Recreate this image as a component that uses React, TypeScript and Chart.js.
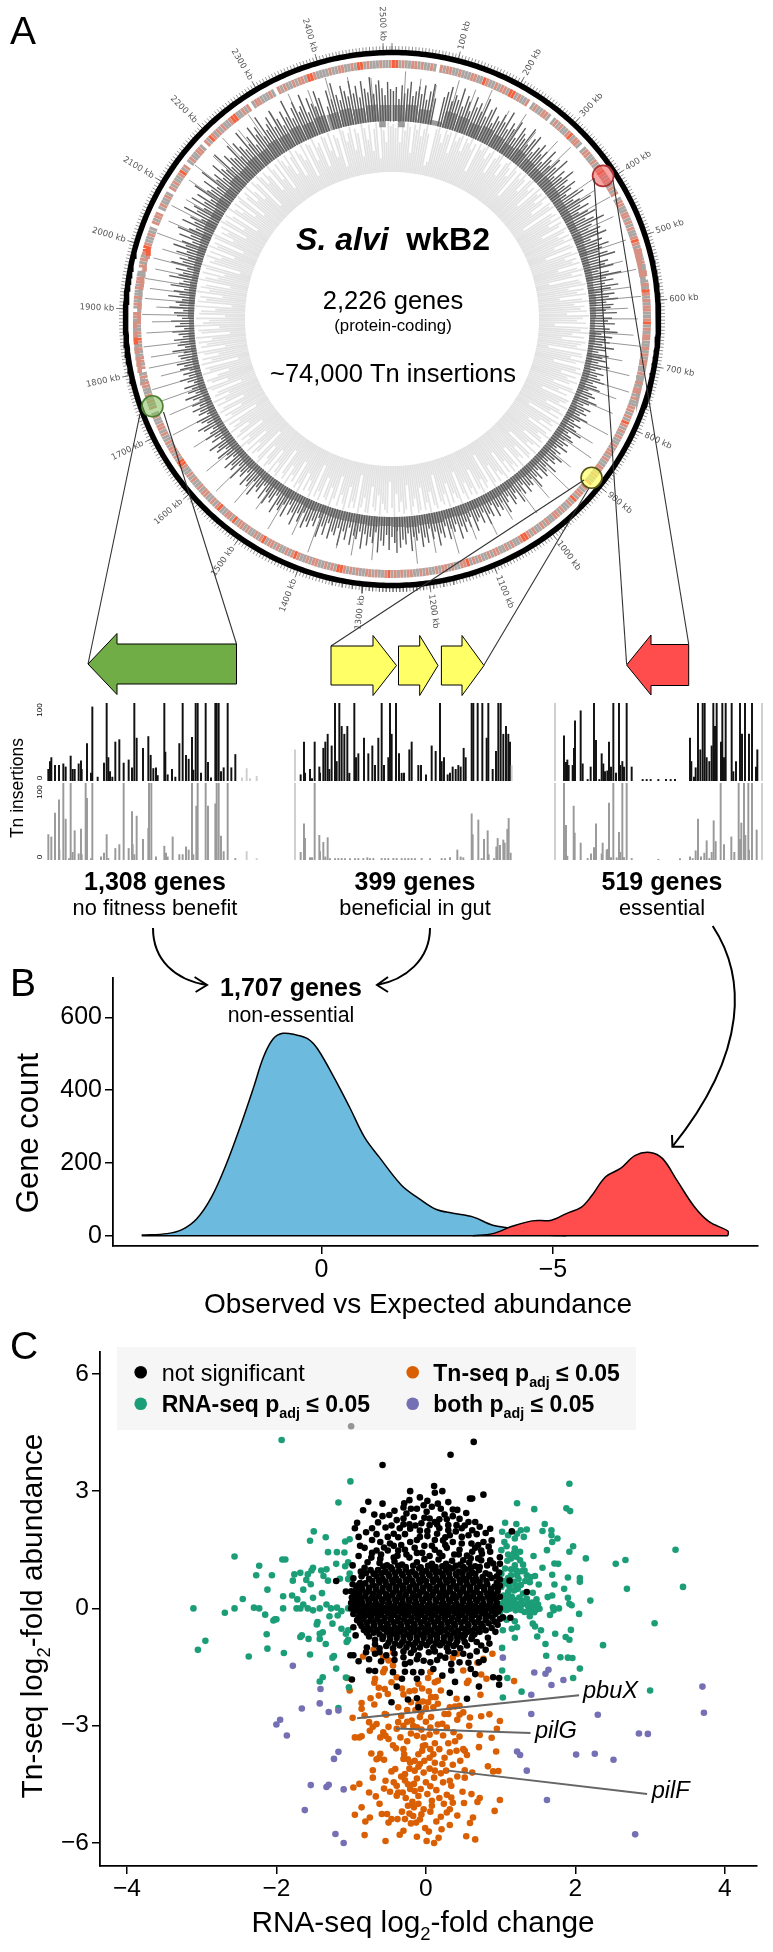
import React, { useEffect, useRef } from "react";
import { Chart, registerables } from "chart.js";
Chart.register(...registerables);

const FONT = '"Liberation Sans", Arial, sans-serif';

// ---------- Panel A: genome tracks ----------
const GENOME_KB = 2513;
const kbLabels = [100,200,300,400,500,600,700,800,900,1000,1100,1200,1300,1400,1500,1600,1700,1800,1900,2000,2100,2200,2300,2400,2500];
// gene ring, one class per bin: 0 gap, 1 grey, 2 salmon, 3 orange-red
const geneClass = [
3,3,1,2,1,1,2,2,1,2,1,1,2,1,0,2,1,2,2,1,1,2,1,1,1,2,2,1,1,3,2,1,1,2,1,2,2,1,3,3,
1,2,1,1,2,0,1,2,1,1,2,2,1,0,1,2,1,2,1,1,2,3,1,2,2,1,0,1,2,2,1,1,2,1,1,2,3,2,1,2,
1,1,2,1,2,0,1,2,2,1,1,2,2,1,2,1,2,1,1,2,3,2,1,2,2,1,1,2,1,1,2,2,0,1,2,1,3,2,1,2,
1,2,2,1,1,2,3,1,2,1,2,2,1,1,2,1,2,1,2,2,1,1,2,1,0,2,1,2,2,1,2,1,1,2,2,1,2,1,3,2,
1,2,1,2,1,1,2,1,2,2,1,2,1,1,2,2,1,2,1,1,2,0,2,1,2,2,1,3,1,2,1,1,2,1,2,2,1,1,2,1,
2,1,1,2,1,2,3,3,2,1,1,2,1,2,1,1,2,2,1,2,1,1,2,1,2,1,3,2,2,1,1,2,1,2,2,1,2,1,1,2,
1,2,1,1,2,2,1,2,1,2,1,3,2,1,1,2,1,2,2,1,1,2,1,2,1,2,3,3,1,2,1,2,1,1,2,2,1,2,1,1,
2,3,2,1,2,1,1,2,1,2,2,1,3,2,1,2,1,1,2,1,2,2,1,3,1,2,2,1,1,3,2,1,2,1,1,2,2,1,2,1,
1,2,1,2,1,1,2,3,3,1,2,1,2,2,1,2,1,1,2,1,2,2,1,1,2,1,0,2,1,2,1,2,1,1,2,2,1,2,1,0,
2,1,2,2,1,1,2,1,2,3,1,2,1,1,2,1,2,2,0,1,2,1,2,1,1,2,1,2,2,1,1,0,2,1,2,1,2,3,3,2,
1,1,2,1,1,0,2,1,2,2,0,1,2,1,1,2,1,0,2,1,2,1,1,2,3,1,2,0,1,2,1,1,2,2,1,0,2,1,3,2,
1,2,1,2,1,1,2,3,3,1,1,2,1,2,0,1,2,2,1,1,1,2,1,0,2,1,2,1,1,2,1,2,2,1,3,3,2,1,1,1,
1,2,1,1,2,2,1,1,2,1,3,3,1,2,1,1,1,2,1,1,2,
];
// dark track: height of the insertion bars above the track base, one per bin
const darkTrack = [
30,34,22,36,28,33,40,26,31,36,29,38,24,33,41,27,0,0,30,36,42,28,35,31,44,26,38,33,24,40,30,36,28,43,25,34,38,22,31,27,
36,29,42,24,33,28,38,21,35,30,26,40,23,32,37,20,28,34,24,30,19,36,27,22,33,25,38,18,29,23,35,26,20,31,24,16,28,33,19,25,
36,22,30,17,26,33,20,28,38,23,18,30,25,34,16,27,21,32,24,19,28,35,17,26,22,30,14,24,36,20,27,18,31,23,15,26,20,29,17,24,
21,16,27,13,22,18,25,15,20,28,12,23,17,21,14,26,18,11,22,16,20,13,25,17,12,21,15,19,24,13,18,22,11,16,20,14,24,17,12,21,
15,19,13,23,16,11,20,14,18,25,12,17,21,13,19,15,22,11,18,14,24,17,20,13,26,15,19,23,12,21,16,27,14,20,18,24,13,22,17,28,
15,21,25,14,19,29,16,23,18,27,13,24,20,30,16,26,19,22,31,15,25,18,28,21,33,17,24,20,30,16,27,22,34,19,26,15,29,23,32,18,
25,21,35,17,28,23,31,14,26,20,33,18,29,24,36,16,27,21,30,19,34,17,25,22,32,15,28,20,35,18,26,23,31,16,29,21,33,14,24,19,
27,22,30,15,26,18,32,20,24,14,29,17,25,21,31,13,23,19,28,16,26,12,22,18,30,15,24,20,27,13,21,17,29,14,23,19,26,12,20,16,
25,13,22,18,27,11,20,15,24,17,12,21,26,14,19,23,10,18,15,22,13,20,11,17,24,12,19,14,21,10,16,23,13,18,11,20,15,22,12,17,
19,13,24,11,18,15,21,12,16,22,10,19,14,23,12,17,20,11,25,15,19,13,27,16,22,12,26,18,14,29,20,16,24,13,30,19,23,15,28,18,
33,21,26,16,31,20,35,24,18,34,22,28,17,38,25,30,20,36,23,33,19,40,27,24,35,21,42,26,31,22,38,29,25,44,23,36,30,27,41,24,
39,32,26,45,28,35,23,42,31,38,25,46,29,34,40,27,44,33,24,38,30,47,26,36,41,29,34,45,25,39,32,28,43,35,0,24,40,30,46,33,
27,41,35,29,44,31,38,26,42,34,30,45,28,37,41,33,26,39,32,
];
// dark track: solid lower part, one value per 25 kb stretch
const darkEnvelope = [
16,17,14,5,17,16,14,16,14,12,14,12,11,12,11,9,9,8,9,8,
7,7,6,7,6,5,6,5,6,7,6,5,7,6,7,7,7,7,8,7,
8,9,9,9,10,9,11,10,11,10,9,10,9,9,9,8,9,8,9,8,
8,7,8,7,8,7,7,7,6,7,6,6,5,6,5,6,6,7,6,7,
8,9,11,10,12,11,14,13,15,14,16,15,17,15,17,16,17,15,17,16,
];
// long spikes reaching toward the gene ring: position (kb)
const spikeKb = [22,48,75,110,140,165,205,232,262,300,322,355,385,402,424,455,470,498,530,548,575,592,610,628,655,672,700,722,748,765,790,825,850,872,905,935,968,1000,1040,1075,1110,1145,1182,1215,1248,1290,1325,1352,1395,1430,1470,1505,1540,1575,1610,1655,1690,1722,1748,1770,1788,1805,1822,1840,1862,1880,1892,1905,1918,1935,1950,1968,1985,2003,2025,2050,2075,2095,2125,2150,2180,2212,2240,2268,2300,2340,2372,2405,2440,2478];
const spikeHeight = [50,44,40,50,46,52,41,47,38,45,50,36,48,42,52,46,34,49,40,51,43,52,38,48,44,52,36,46,50,40,42,47,38,45,34,48,40,44,36,42,38,46,40,48,36,44,42,38,50,40,46,36,44,48,42,38,50,44,46,52,40,50,46,52,48,42,52,38,50,46,52,44,48,42,52,46,50,40,48,52,44,50,46,52,42,50,46,52,48,44];
// pale track: height of the bars above the inner circle, one per bin
const paleTrack = [
48,44,51,30,47,42,50,46,20,49,44,51,38,46,50,42,10,14,48,51,44,36,50,46,49,28,51,42,47,50,34,49,45,51,40,47,18,50,44,48,
51,38,46,50,26,44,49,51,42,30,47,50,44,36,51,46,16,48,42,50,45,32,49,51,40,46,22,50,44,48,37,51,43,28,49,46,50,12,44,47,
40,51,35,48,44,24,50,46,38,49,42,51,30,46,48,18,44,50,36,47,42,49,26,45,51,38,48,14,44,46,50,32,47,40,49,22,44,51,36,46,
42,48,28,50,44,38,47,16,49,42,51,34,46,24,48,44,40,50,12,46,47,36,51,42,20,48,44,50,30,46,38,49,42,26,47,51,34,44,18,48,
46,40,50,28,44,49,36,47,14,50,42,46,32,48,22,45,51,38,44,47,26,49,42,36,50,16,46,48,30,44,40,51,24,47,42,49,34,46,20,50,
44,38,48,28,46,51,12,42,47,36,50,44,22,48,40,46,32,49,42,18,51,44,38,47,26,50,36,46,42,14,48,44,30,51,40,47,24,46,49,34,
42,50,20,44,48,36,46,28,51,42,16,47,44,38,50,30,46,42,22,49,48,34,44,51,12,46,40,47,26,50,44,36,48,18,42,51,32,46,44,24,
49,40,47,14,50,44,34,46,28,51,42,48,20,44,38,50,30,47,42,16,49,46,36,51,24,44,48,40,26,50,46,12,42,47,34,49,22,44,51,38,
46,18,48,42,30,50,44,36,47,14,51,40,46,26,49,44,20,48,38,50,32,46,42,16,47,51,28,44,48,36,24,50,42,46,12,49,38,47,30,44,
51,22,46,40,48,34,50,16,44,47,26,51,42,36,49,20,46,44,30,50,14,48,40,46,24,51,38,47,42,18,50,44,32,48,26,46,51,12,44,40,
49,34,47,22,50,42,46,16,48,51,30,44,38,47,20,50,46,26,49,42,14,51,44,36,48,24,46,50,18,42,47,32,51,40,28,49,44,12,50,46,
36,48,42,22,51,44,30,47,16,50,46,38,49,26,44,51,20,47,42,34,50,14,48,46,28,51,40,44,18,49,47,32,50,24,46,42,12,51,48,36,
44,50,26,47,42,18,51,46,34,49,22,44,50,14,47,42,30,51,46,
];
const highlightKb = [390, 1745, 897];
const highlightFill = ["rgba(240,90,90,0.55)", "rgba(130,190,90,0.55)", "rgba(255,255,90,0.65)"];
const highlightEdge = ["#b03030", "#4a7f30", "#55551a"];

// ---------- Panel A: insertion profiles below the gene arrows (position, insertions) ----------
const profile1Top = [[55,15],[60,25],[64,30],[75,20],[87,20],[100,22],[107,18],[122,32],[128,15],[134,15],[146,22],[153,26],[155,15],[171,48],[187,95],[183,10],[203,5],[222,23],[230,100],[235,30],[240,12],[247,5],[256,50],[268,53],[281,23],[296,27],[306,17],[313,100],[320,55],[339,42],[355,57],[362,33],[370,16],[378,17],[383,7],[403,100],[406,37],[413,8],[426,15],[436,5],[448,48],[458,100],[468,33],[476,28],[486,56],[490,14],[497,100],[503,100],[513,10],[527,100],[534,24],[543,4],[556,100],[560,100],[566,100],[573,12],[581,17],[593,100],[604,17],[616,34],[636,4],[650,16],[660,3],[680,6]];
const profile1Bottom = [[55,33],[64,30],[75,61],[87,78],[88,13],[100,100],[107,53],[117,2],[122,100],[128,10],[134,38],[146,8],[153,40],[155,7],[167,100],[171,80],[183,2],[187,100],[213,4],[222,9],[230,33],[235,2],[256,15],[268,20],[281,100],[296,15],[306,63],[308,20],[313,7],[320,57],[339,27],[355,41],[357,100],[364,100],[378,4],[403,18],[408,9],[413,4],[428,30],[448,7],[458,7],[468,17],[476,13],[486,100],[490,7],[499,70],[503,100],[527,100],[534,70],[556,73],[560,100],[566,100],[573,31],[581,11],[593,100],[616,2],[650,11],[680,2]];
const profile2Top = [[15,40],[32,8],[42,50],[45,10],[60,15],[66,3],[74,50],[88,18],[90,10],[100,42],[106,50],[113,60],[118,15],[125,45],[135,100],[140,25],[148,100],[155,70],[163,60],[172,70],[178,10],[193,100],[198,30],[205,35],[222,55],[235,35],[247,45],[255,20],[265,55],[275,100],[282,20],[295,30],[300,100],[305,60],[318,100],[327,35],[335,10],[342,10],[358,40],[365,50],[385,20],[393,20],[408,8],[425,45],[437,38],[450,100],[455,25],[462,30],[473,8],[480,10],[488,18],[497,15],[505,20],[512,18],[521,42],[527,30],[545,100],[550,100],[563,100],[577,100],[590,55],[595,100],[608,15],[618,38],[625,100],[632,100],[640,60],[648,70],[655,60],[660,50],[665,20]];
const profile2Bottom = [[15,100],[32,10],[42,47],[45,28],[60,3],[66,3],[74,100],[88,32],[90,11],[100,23],[106,4],[113,29],[120,2],[135,2],[145,2],[155,2],[165,2],[180,2],[195,2],[205,2],[220,2],[232,3],[240,2],[250,2],[275,2],[285,2],[295,2],[310,2],[320,2],[335,2],[345,2],[355,2],[365,2],[375,2],[395,2],[420,2],[455,2],[465,2],[480,3],[502,13],[512,4],[520,3],[545,60],[548,33],[565,52],[575,2],[582,27],[593,38],[596,7],[612,2],[619,17],[623,28],[630,19],[640,26],[644,22],[652,40],[656,54],[662,9]];
const profile3Top = [[15,100],[42,58],[48,24],[52,27],[56,20],[68,20],[72,42],[75,77],[92,90],[98,22],[113,2],[122,18],[132,100],[138,52],[148,2],[155,35],[160,22],[165,12],[172,13],[177,50],[183,18],[190,100],[198,10],[207,100],[211,20],[217,25],[222,18],[230,100],[245,18],[278,2],[290,2],[302,2],[325,2],[348,2],[362,2],[375,2],[420,55],[424,25],[432,5],[437,17],[444,100],[451,40],[458,100],[464,100],[470,30],[478,25],[485,45],[490,100],[495,70],[500,100],[513,50],[517,100],[522,30],[527,100],[545,100],[550,12],[558,25],[570,100],[576,60],[585,100],[597,60],[606,100],[618,18],[622,40],[636,100]];
const profile3Bottom = [[15,100],[42,100],[48,45],[52,5],[71,70],[74,35],[92,22],[113,2],[123,8],[132,16],[138,47],[155,8],[158,22],[170,13],[173,14],[177,74],[183,3],[190,100],[200,3],[207,36],[211,10],[217,100],[222,3],[230,100],[245,2],[325,1],[390,2],[420,4],[428,2],[437,12],[444,53],[453,4],[463,9],[470,25],[478,2],[485,10],[491,51],[497,24],[512,100],[522,20],[544,30],[553,10],[566,100],[570,27],[574,48],[582,100],[586,32],[595,100],[597,13],[606,100],[620,39],[636,100]];

// ---------- Panel B: density ----------
const nonEssentialX = [3.88,3.33,3.01,2.69,2.37,2.05,1.73,1.46,1.25,1.04,.83,.56,.29,.08,-.29,-.61,-.93,-1.25,-1.73,-2.10,-2.47,-2.84,-3.27,-3.70,-4.12,-4.49,-4.87,-5.29];
const nonEssentialY = [2,6,17,47,107,198,308,409,491,541,556,552,541,513,431,353,271,216,139,103,73,62,52,29,20,8,2,0];
const essentialX = [-3.27,-3.70,-4.12,-4.55,-4.97,-5.29,-5.61,-5.82,-6.14,-6.46,-6.78,-7.10,-7.37,-7.68,-8.06,-8.38,-8.78,-8.78];
const essentialY = [0,6,26,41,43,61,78,107,162,185,221,229,212,152,79,38,13,0];
const densityTicksX = [0,-5];
const densityTicksY = [0,200,400,600];

// ---------- Panel C: scatter (RNA-seq log2FC, Tn-seq log2FC) ----------
const notSignificant = [[-1.0,4.66],[.64,4.26],[.33,3.93],[-.58,3.67],[-.77,2.73],[-.58,2.68],[-.84,2.51],[-.69,2.4],[-.58,2.36],[-.49,2.39],[-.64,2.2],[-.39,2.26],[-.92,2.19],[-.95,2.05],[-.54,2.07],[-.9,1.83],[-.72,1.75],[-.61,1.7],[-.51,1.83],[-.43,1.91],[-.37,1.82],[-.48,1.66],[-.66,1.48],[-.9,1.34],[-.73,1.3],[-.61,1.27],[-.51,1.48],[-.37,1.48],[-.82,1.04],[-.98,1.1],[-.70,.89],[-1.2,.7],[-.97,.77],[-.88,.65],[-1.07,.43],
[.77,2.91],[.59,2.81],[.62,2.81],[.11,3.13],[-.21,3.0],[.12,2.96],[.22,3.0],[-.08,2.84],[-.22,2.77],[-.29,2.69],[.16,2.68],[.36,2.53],[-.03,2.64],[.01,2.47],[-.26,2.43],[-.16,2.34],[.54,2.44],[.45,2.29],[.41,2.13],[.66,2.21],[.57,2.21],[.72,2.09],[.86,2.04],[.8,1.93],[.12,2.21],[.05,2.13],[.3,2.13],[-.21,2.04],[-.08,1.99],[.15,1.91],[.32,1.87],[.57,1.87],[.48,1.83],[.77,1.7],[.88,1.74],[.36,1.7],[-.08,1.83],[.02,1.85],[.23,1.74],[-.21,1.7],[-.33,1.62],[.61,1.66],[.7,1.62],[.86,1.45],[.99,1.31],[.74,1.23],[.5,1.23],[.86,1.23],[.99,1.14],[-.3,2.3],[-.12,2.55],[.25,2.4],[-.35,2.05],[.4,1.97],[-.15,1.55],[.08,1.6],[.28,1.55],[.45,1.5],[.62,1.45],[-.28,1.5],[-.05,1.42],[.18,1.42],[.38,1.38],[.55,1.35],[.75,1.4],
[-.62,1.16],[-.52,1.1],[-.42,1.2],[-.32,1.12],[-.22,1.3],[-.12,1.18],[-.02,1.26],[.08,1.14],[.17,1.25],[.27,1.14],[.35,1.22],[.46,1.12],[.58,1.17],[.66,1.08],[.93,1.02],
[-.74,.98],[-.64,.98],[-.54,.94],[-.45,1.0],[-.36,.96],[-.27,1.0],[-.18,.94],[-.09,1.02],[0,.96],[.09,1.0],[.18,.94],[.27,.98],[.36,1.02],[.44,.94],[.53,1.0],[.62,.92],[.71,.98],[.8,.9],[.98,.92],
[-.86,.82],[-.76,.76],[-.66,.82],[-.58,.76],[-.49,.82],[-.4,.78],[-.31,.84],[-.22,.78],[-.13,.84],[-.04,.78],[.05,.84],[.14,.78],[.23,.82],[.32,.78],[.41,.84],[.5,.78],[.58,.82],[.67,.76],[.76,.8],[.88,.78],[.99,.74],
[-.98,.62],[-.9,.6],[-.81,.64],[-.71,.6],[-.62,.66],[-.53,.6],[-.44,.66],[-.35,.62],[-.26,.68],[-.17,.62],[-.08,.66],[.01,.6],[.1,.68],[.19,.62],[.28,.66],[.37,.6],[.46,.66],[.55,.62],[.64,.66],[.72,.58],[.82,.62],[.92,.56],[.99,.58],
[-1.0,.44],[-.93,.46],[-.85,.48],[-.76,.44],[-.67,.48],[-.58,.44],[-.49,.5],[-.4,.46],[-.31,.5],[-.22,.46],[-.13,.5],[-.04,.44],[.05,.5],[.14,.46],[.23,.48],[.32,.44],[.41,.5],[.5,.44],[.59,.48],[.68,.42],[.78,.48],[.87,.42],[.96,.44],
[-.99,.28],[-.91,.3],[-.81,.32],[-.72,.28],[-.63,.32],[-.54,.28],[-.45,.34],[-.36,.3],[-.27,.34],[-.18,.3],[-.09,.34],[0,.28],[.09,.34],[.18,.3],[.27,.34],[.36,.28],[.45,.34],[.54,.28],[.63,.32],[.72,.28],[.83,.32],[.91,.26],[.99,.3],
[-1.0,.14],[-.92,.16],[-.85,.14],[-.76,.16],[-.67,.14],[-.58,.18],[-.49,.14],[-.4,.18],[-.31,.14],[-.22,.18],[-.13,.14],[-.04,.18],[.05,.12],[.14,.18],[.23,.14],[.32,.18],[.41,.12],[.5,.18],[.59,.14],[.68,.18],[.77,.12],[.86,.16],[.95,.14],
[-1.0,0],[-.95,0],[-.9,0],[-.85,0],[-.8,0],[-.75,0],[-.7,0],[-.65,0],[-.6,0],[-.55,0],[-.5,0],[-.45,0],[-.4,0],[-.35,0],[-.3,0],[-.25,0],[-.2,0],[-.15,0],[-.1,0],[-.05,0],[0,0],[.05,0],[.1,0],[.15,0],[.2,0],[.25,0],[.3,0],[.35,0],[.4,0],[.45,0],[.5,0],[.55,0],[.6,0],[.65,0],[.7,0],[.75,0],[.8,0],[.85,0],[.9,0],[.95,0],[.99,0],
[-.97,-.14],[-.87,-.12],[-.78,-.16],[-.69,-.12],[-.6,-.16],[-.51,-.12],[-.42,-.16],[-.33,-.12],[-.24,-.16],[-.15,-.12],[-.06,-.16],[.03,-.12],[.12,-.16],[.21,-.12],[.3,-.16],[.39,-.12],[.48,-.16],[.57,-.12],[.66,-.16],[.75,-.12],[.84,-.18],[.93,-.14],
[-.92,-.3],[-.84,-.28],[-.74,-.3],[-.65,-.28],[-.56,-.32],[-.47,-.28],[-.38,-.32],[-.29,-.28],[-.2,-.32],[-.11,-.28],[-.02,-.32],[.07,-.28],[.16,-.32],[.25,-.28],[.34,-.32],[.43,-.28],[.52,-.32],[.61,-.28],[.7,-.34],[.8,-.3],[.92,-.34],[.99,-.27],
[-.97,-.48],[-.86,-.45],[-.78,-.48],[-.69,-.44],[-.6,-.48],[-.51,-.44],[-.42,-.48],[-.33,-.44],[-.24,-.48],[-.15,-.44],[-.06,-.48],[.03,-.44],[.12,-.48],[.21,-.44],[.3,-.48],[.39,-.44],[.48,-.5],[.57,-.44],[.66,-.5],[.76,-.46],[.88,-.5],[.96,-.42],
[-.94,-.69],[-.79,-.62],[-.7,-.62],[-.62,-.66],[-.52,-.6],[-.43,-.64],[-.34,-.6],[-.25,-.66],[-.16,-.6],[-.07,-.66],[.02,-.6],[.11,-.66],[.2,-.6],[.29,-.66],[.38,-.62],[.47,-.68],[.56,-.6],[.65,-.66],[.72,-.6],[.83,-.75],
[-.68,-.8],[-.58,-.78],[-.48,-.8],[-.39,-.76],[-.3,-.82],[-.21,-.76],[-.12,-.82],[-.03,-.76],[.06,-.82],[.15,-.78],[.24,-.84],[.33,-.78],[.42,-.84],[.61,-.78],[.5,-.76],[.85,-.9],[.74,-.95],
[-.79,-1.0],[-.53,-.96],[-.44,-1.02],[-.35,-.95],[-.26,-1.0],[-.17,-.94],[-.08,-1.0],[.01,-.94],[.1,-1.0],[.19,-.94],[.28,-1.0],[.37,-.96],[.55,-.95],[.46,-1.02],[-.62,-1.02],
[-.68,-1.16],[-.53,-1.2],[-.42,-1.16],[-.3,-1.25],[-.2,-1.14],[-.1,-1.2],[.04,-1.12],[.19,-1.21],[.3,-1.1],[.59,-1.21],[-1.01,-1.2],[-.97,-1.2],[-.9,-1.35],
[-.76,-1.59],[-.68,-1.6],[-.44,-1.63],[-.21,-1.38],[-.03,-1.34],[.06,-1.38],[.34,-1.42],[.45,-1.38],[.57,-1.39],[.71,-1.38],[.77,-1.32],[-.17,-1.63],[-.06,-1.63],[.34,-1.59],[-.99,-1.82],[-.39,-2.0],[.39,-1.88],[.9,-1.76],[.98,-1.78],[.98,-1.95],[.71,-2.0],[.32,-2.16],[.55,-2.31],[-.1,-2.53],[-.24,-2.33],[-.12,-2.3],[-.46,-2.4],[1.03,-.23],[1.13,-.24],[1.12,.71],[1.35,.42],[1.15,1.97]];
// the packed middle of the not-significant cloud
const notSignificantCore = [
[-.57,1.07],[-.47,1.05],[-.37,1.09],[-.27,1.06],[-.17,1.09],[-.07,1.05],[.03,1.09],[.13,1.06],[.22,1.08],[.31,1.05],[.4,1.09],[.5,1.06],[.6,1.03],[.72,1.06],
[-.8,.9],[-.69,.88],[-.59,.9],[-.5,.87],[-.41,.9],[-.32,.88],[-.23,.91],[-.14,.88],[-.05,.9],[.04,.88],[.13,.91],[.22,.88],[.31,.9],[.4,.88],[.49,.9],[.58,.87],[.66,.88],[.85,.86],
[-.72,.7],[-.63,.72],[-.54,.69],[-.45,.72],[-.36,.7],[-.27,.73],[-.18,.7],[-.09,.73],[0,.7],[.09,.73],[.18,.7],[.27,.72],[.36,.7],[.45,.73],[.54,.7],[.63,.72],[.72,.68],[.81,.7],[.95,.66],
[-.93,.53],[-.86,.55],[-.76,.53],[-.67,.56],[-.58,.52],[-.49,.56],[-.4,.54],[-.31,.57],[-.22,.54],[-.13,.56],[-.04,.53],[.05,.56],[.14,.54],[.23,.56],[.32,.53],[.41,.56],[.5,.53],[.59,.55],[.68,.52],[.77,.55],[.87,.5],[.96,.52],
[-.96,.36],[-.89,.38],[-.8,.4],[-.71,.37],[-.62,.4],[-.53,.36],[-.44,.4],[-.35,.38],[-.26,.41],[-.17,.38],[-.08,.41],[.01,.36],[.1,.41],[.19,.38],[.28,.4],[.37,.36],[.46,.41],[.55,.37],[.64,.4],[.73,.36],[.82,.38],[.91,.35],
[-.95,.22],[-.86,.24],[-.77,.22],[-.68,.24],[-.59,.22],[-.5,.25],[-.41,.22],[-.32,.25],[-.23,.22],[-.14,.25],[-.05,.22],[.04,.25],[.13,.22],[.22,.25],[.31,.22],[.4,.25],[.49,.22],[.58,.25],[.67,.22],[.76,.24],[.85,.22],[.94,.22],
[-.96,.07],[-.87,.08],[-.78,.06],[-.69,.08],[-.6,.07],[-.51,.09],[-.42,.06],[-.33,.09],[-.24,.07],[-.15,.09],[-.06,.06],[.03,.08],[.12,.06],[.21,.09],[.3,.07],[.39,.09],[.48,.06],[.57,.08],[.66,.07],[.75,.08],[.84,.06],[.93,.07],
[-.92,-.06],[-.83,-.07],[-.74,-.06],[-.65,-.08],[-.56,-.06],[-.47,-.08],[-.38,-.06],[-.29,-.08],[-.2,-.06],[-.11,-.08],[-.02,-.06],[.07,-.08],[.16,-.06],[.25,-.08],[.34,-.06],[.43,-.08],[.52,-.06],[.61,-.08],[.7,-.06],[.79,-.08],[.88,-.06],[.97,-.07],
[-.9,-.22],[-.82,-.2],[-.73,-.22],[-.64,-.2],[-.55,-.24],[-.46,-.2],[-.37,-.24],[-.28,-.2],[-.19,-.24],[-.1,-.2],[-.01,-.24],[.08,-.2],[.17,-.24],[.26,-.2],[.35,-.24],[.44,-.2],[.53,-.24],[.62,-.2],[.71,-.24],[.8,-.22],[.89,-.24],
[-.88,-.38],[-.79,-.36],[-.7,-.38],[-.61,-.36],[-.52,-.4],[-.43,-.36],[-.34,-.4],[-.25,-.36],[-.16,-.4],[-.07,-.36],[.02,-.4],[.11,-.36],[.2,-.4],[.29,-.36],[.38,-.4],[.47,-.36],[.56,-.4],[.65,-.36],[.74,-.4],[.84,-.38],
[-.83,-.55],[-.74,-.54],[-.65,-.56],[-.56,-.53],[-.47,-.56],[-.38,-.53],[-.29,-.56],[-.2,-.53],[-.11,-.56],[-.02,-.53],[.07,-.56],[.16,-.53],[.25,-.56],[.34,-.53],[.43,-.57],[.52,-.53],[.61,-.57],[.7,-.53],[.8,-.56],[.93,-.6],
[-.57,-.72],[-.48,-.7],[-.39,-.68],[-.3,-.72],[-.21,-.68],[-.12,-.72],[-.03,-.68],[.06,-.72],[.15,-.68],[.24,-.74],[.33,-.7],[.42,-.74],[.52,-.68],[.62,-.72],[-.76,-.72],
[-.5,-.88],[-.41,-.9],[-.32,-.88],[-.23,-.9],[-.14,-.88],[-.05,-.9],[.04,-.86],[.13,-.9],[.22,-.88],[.31,-.9],[.4,-.92],[.52,-.86],[.68,-.86],[-.68,-.92],
[-.22,2.15],[-.02,2.32],[.2,2.55],[.28,2.28],[.48,2.05],[.62,2.0],[.3,2.0],[.18,2.05],[.02,1.98],[-.14,2.12],[-.28,1.9],[-.12,1.75],[.12,1.75],[.26,1.62],[.48,1.66],[.66,1.55],[.74,1.48],[.84,1.58],[.44,1.38],[.22,1.34],[.05,1.34],[-.12,1.42],[-.26,1.38],[-.38,1.35],[-.43,1.6],[-.56,1.56],[-.72,1.42],[-.6,1.38],[-.78,1.18],[-.87,.94],[-.43,1.3],[.6,1.28],[.7,1.28],[.82,1.1],[.9,1.15],[.95,.82],
[-.62,-1.12],[-.3,-1.1],[-.16,-1.06],[.12,-1.1],[.38,-1.14],[.5,-1.16],[-.42,-1.32],[-.28,-1.42],[-.12,-1.3],[.15,-1.32],[.26,-1.26],[-.8,-1.12],[-.76,-1.3],[-.6,-1.35],[.68,-1.1],[.8,-1.06],[-.28,-1.62],[-.12,-1.8],[.1,-1.55],[.22,-1.72],[.6,-1.55],[.66,-1.68],[-.32,-1.8],
[-.42,2.5],[-.3,2.58],[-.46,2.12],[-.72,2.05],[-.8,1.95],[-.66,1.9],[-.82,1.55],[-.88,1.6],[-.2,2.55],[.02,2.75],[.08,2.6],[.3,2.72],[.42,2.52],[.18,2.28],[.36,2.36],[.52,2.12],[.68,1.9],[.05,2.3],[-.06,2.18],[-.3,2.15],[.15,2.15],[.26,1.82],[.12,1.5],[-.02,1.6],
];
const rnaSignificant = [[-1.93,4.31],[-1.01,3.25],[-1.17,2.71],[-1.50,1.97],[-1.34,1.82],[-1.55,1.73],[-1.08,1.71],[-1.02,1.77],[-1.31,1.44],[-1.19,1.44],[-1.09,1.43],[-2.56,1.33],[-1.92,1.25],[-1.88,1.25],[-1.20,1.14],[-1.04,1.18],[-1.08,1.08],[-2.23,1.09],[-1.51,1.04],[-1.33,1.0],[-1.40,.97],[-1.53,.97],[-1.68,.91],[-1.76,.87],[-2.27,.85],[-2.06,.85],[-1.58,.87],[-1.02,.89],[-1.37,.83],[-1.78,.71],[-1.60,.73],[-1.31,.71],[-1.15,.76],[-1.04,.75],[-1.54,.62],[-1.64,.48],[-2.12,.48],[-1.39,.39],[-1.79,.33],[-1.91,.31],[-1.51,.27],[-1.72,.23],[-2.45,.24],[-3.11,0],[-2.56,0],[-2.30,.02],[-2.23,0],[-1.91,0],[-1.73,0],[-1.68,0],[-1.64,.1],[-1.58,0],[-1.51,-.05],[-1.42,0],[-1.33,.1],[-1.27,0],[-1.19,.02],[-1.13,-.07],[-1.04,0],[-2.69,-.11],[-2.15,-.16],[-2.02,-.28],[-1.29,-.2],[-1.18,-.18],[-2.04,-.31],[-2.0,-.28],[-1.45,-.35],[-1.46,-.41],[-1.25,-.39],[-1.13,-.52],[-1.04,-.56],[-1.07,-.65],[-2.13,-.66],[-1.68,-.73],[-1.66,-.69],[-1.57,-.78],[-1.42,-.65],[-1.38,-.61],[-1.42,-.78],[-1.34,-.91],[-1.06,-.86],[-1.04,-.8],[-2.95,-.83],[-3.05,-1.06],[-2.37,-1.23],[-2.12,-1.03],[-1.90,-1.14],[-1.55,-1.18],[-1.25,-1.26],[-1.23,-1.22],[-1.20,-1.54],[-1.38,-1.76],[-1.42,-1.87],[-1.07,-1.77],[-1.03,-2.02],[-1.17,-2.55],
[1.92,3.19],[1.22,2.69],[1.45,2.54],[1.88,2.56],[1.93,2.49],[1.06,2.19],[1.21,2.16],[1.59,2.16],[1.56,1.98],[1.68,2.0],[1.68,1.87],[1.02,1.96],[1.10,1.87],[1.35,2.02],[1.27,2.0],[1.22,1.91],[1.19,1.79],[1.31,1.83],[1.76,1.79],[1.69,1.7],[1.97,1.59],[1.92,1.45],[1.62,1.49],[1.08,1.59],[1.19,1.53],[1.26,1.45],[1.01,1.49],[2.14,1.28],[1.44,1.34],[1.21,1.32],[1.14,1.28],[1.09,1.22],[1.26,1.23],[3.34,1.5],[2.67,1.24],[2.54,1.14],[1.72,1.15],[1.77,1.14],[1.56,1.04],[1.19,1.1],[1.21,.97],[1.32,.97],[1.28,.95],[1.06,1.02],[1.01,.89],[1.14,.85],[1.69,.86],[1.46,.83],[1.40,.8],[1.90,.79],[2.06,.78],[2.06,.68],[1.51,.61],[1.39,.67],[1.72,.61],[1.2,.59],[1.08,.63],[2.69,.5],[3.44,.55],[1.85,.5],[1.43,.4],[1.23,.5],[1.01,.55],[1.04,.33],[1.9,.27],[1.63,.29],[1.69,.33],[2.2,.2],[1.35,.25],[1.48,.23],[1.12,.18],[1.21,.12],[1.01,.12],[1.92,.12],[1.95,.08],[1.44,.03],[1.52,-.01],[1.19,.03],[1.32,-.09],[1.08,-.04],[1.78,0],[1.7,.03],[1.71,-.05],[1.66,-.17],[2.05,-.14],[1.39,-.2],[.99,-.09],[1.26,.05],[1.37,.05],[1.48,-.03],[1.12,-.01],[1.15,.3],[1.28,.2],[1.42,.15],[1.05,.05],[1.3,.38],[1.18,.68],
[1.05,.22],[1.1,.28],[1.18,.22],[1.25,.28],[1.08,.1],[1.15,.08],[1.29,.1],[1.36,.12],[1.42,.08],[1.5,.1],[1.03,-.02],[1.2,-.05],[1.27,-.04],[1.38,-.08],[1.45,-.1],[1.1,.42],[1.18,.46],[1.27,.6],[1.12,.55],[1.33,.7],[1.24,.75],[1.04,.7],[1.14,1.0],[1.1,.78],[1.22,.85],[1.3,1.12],[1.35,.85],[1.1,1.38],[1.18,1.42],[1.05,1.7],
[3.06,-.38],[1.94,-.55],[1.73,-.65],[1.87,-.73],[1.92,-.8],[1.43,-.39],[1.46,-.46],[1.54,-.56],[1.49,-.72],[1.19,-.33],[1.22,-.48],[1.15,-.52],[1.19,-.75],[1.08,-.29],[1.03,-.56],[1.6,-.91],[2.37,-.94],[1.02,-1.01],[1.61,-1.21],[1.8,-1.25],[1.9,-1.26],[1.96,-1.27],[2.06,-1.54],[1.02,-1.59],[1.09,-1.78],[1.97,-1.78],[1.28,-2.13],[3.0,-2.1],[1.03,-2.28]];
const tnSignificant = [[.42,-1.16],[.36,-1.26],[.5,-1.59],[.69,-1.39],[.77,-1.29],[.89,-1.16],[.74,-1.69],[.81,-1.8],[1.18,-1.86],[.57,-1.85],[.55,-1.91],[.16,-1.85],[.12,-1.89],[.06,-1.63],[.03,-1.78],[-.1,-1.93],[-.15,-2.1],[.41,-2.31],[.73,-2.21],[.07,-2.27],[.13,-2.27],[.03,-2.4],[.16,-2.44],[.1,-2.53],[.32,-2.53],[.39,-2.51],[.45,-2.49],[.5,-2.66],[.45,-2.72],[.59,-2.79],[.74,-2.76],[.85,-2.71],[.99,-2.88],[.58,-3.0],[.95,-3.08],[.72,-3.24],[.88,-3.31],[.45,-3.28],[.37,-3.17],[.39,-3.4],[.23,-3.25],[.12,-3.45],[.05,-3.23],[.16,-2.97],[.07,-2.78],[.25,-2.7],[.3,-2.7],[-.08,-2.78],[-.19,-2.87],[-.17,-3.0],[-.12,-3.04],[-.12,-3.26],[-.03,-3.3],[-.04,-3.52],[-.01,-3.5],[-.05,-3.64],[-.1,-3.73],[-.21,-3.94],[-.15,-3.9],[-.08,-3.98],[.1,-3.73],[.05,-3.82],[-.29,-3.73],[-.24,-3.86],[.71,-3.55],[.94,-3.66],[.52,-3.64],[.41,-3.64],[.5,-3.6],[.55,-3.75],[.32,-3.68],[.25,-3.82],[.22,-3.98],[.36,-4.0],[.83,-4.04],[.9,-4.17],[.97,-4.16],[.52,-4.14],[.52,-4.33],[.27,-4.15],[.2,-4.22],[.11,-4.33],[-.03,-4.2],[-.15,-4.15],[-.28,-4.24],[.23,-4.45],[.32,-4.41],[.34,-4.54],[0,-4.45],[-.07,-4.62],[-.16,-4.49],[-.21,-4.62],[-.15,-4.67],[.49,-4.69],[.61,-4.75],[.28,-4.77],[-.31,-4.71],[.72,-4.85],[.69,-4.95],[.99,-4.9],[.34,-4.84],[.36,-4.97],[.51,-4.98],[.08,-4.92],[.08,-5.05],[-.03,-5.14],[-.16,-5.09],[.92,-5.18],[.32,-5.14],[.28,-5.22],[.2,-5.33],[.06,-5.2],[-.06,-5.27],[-.17,-5.31],[.63,-5.35],[.59,-5.49],[-.28,-5.39],[-.13,-5.48],[.32,-5.54],[.21,-5.65],[-.01,-5.62],[.04,-5.71],[-.3,-5.69],[-.35,-5.79],[-.12,-5.84],[.54,-5.83],[.66,-5.91],[.17,-5.87],[.01,-5.95],[.11,-6.0],
[-.7,-1.06],[-.44,-1.12],[-.84,-1.23],[-.57,-1.25],[-.5,-1.33],[-.44,-1.46],[-.55,-1.55],[-.57,-1.63],[-.46,-1.89],[-.39,-1.76],[-1.05,-1.78],[-.68,-1.8],[-.69,-1.9],[-.63,-2.03],[-.55,-2.06],[-.51,-2.19],[-1.02,-2.1],[-.63,-2.23],[-.74,-2.3],[-.86,-2.42],[-.69,-2.46],[-.86,-2.57],[-.37,-2.53],[-.82,-2.74],[-.98,-2.8],[-.53,-2.72],[-.55,-2.7],[-.76,-2.91],[-.66,-2.96],[-.71,-3.03],[-.75,-3.13],[-.5,-3.03],[-.37,-2.91],[-.39,-3.08],[-.57,-3.17],[-.54,-3.26],[-.95,-3.3],[-.89,-3.3],[-.86,-3.27],[-.61,-3.3],[-.5,-3.34],[-.44,-3.5],[-.4,-3.58],[-.73,-3.71],[-.61,-3.72],[-.66,-3.86],[-.56,-3.87],[-.63,-3.83],[-.71,-4.14],[-.46,-4.17],[-.41,-4.11],[-.71,-4.33],[-.54,-4.41],[-.43,-4.45],[-.39,-4.54],[-.89,-4.49],[-.97,-4.58],[-.56,-4.61],[-.76,-4.71],[-.48,-4.69],[-.67,-4.81],[-.37,-4.71],[-.39,-4.79],[-.62,-5.0],[-.86,-5.09],[-.95,-5.28],[-.59,-5.26],[-.52,-5.26],[-.38,-5.39],[-.46,-5.39],[-.5,-5.48],[-.75,-5.35],[-.81,-5.45],[-.82,-5.8],[-.54,-5.95],
[-.3,-2.2],[-.25,-2.6],[-.3,-3.0],[-.25,-3.4],[-.3,-3.6],[-.22,-4.1],[-.33,-4.3],[-.27,-4.85],[-.2,-5.5],[-.32,-5.2],[-.25,-2.9],[-.3,-3.85],[-.28,-4.4],[-.2,-3.2],[-.33,-2.75],[-.18,-4.95],[-.24,-5.05],[-.14,-2.6],[-.2,-2.4],[-.34,-3.3],
[-.05,-2.05],[-.22,-2.12],[-.32,-2.05],[.04,-2.12],[.2,-2.1],[-.04,-2.38],[-.1,-2.45],[-.06,-2.65],[.0,-2.55],[.0,-2.9],[.06,-3.05],[.14,-3.15],[.22,-2.95],[.28,-3.05],[-.06,-3.1],[.18,-3.6],[.06,-3.6],[-.02,-3.9],[.12,-3.95],[.05,-4.1],[-.1,-4.05],[.12,-4.15],[-.12,-4.35],[-.24,-4.5],[.06,-4.55],[.14,-4.65],[.02,-4.75],[-.1,-4.8],[.18,-4.85],[.24,-5.0],[-.1,-5.0],[-.22,-5.25],[.14,-5.45],[-.08,-5.4],[.42,-2.85],[.3,-3.45],[.46,-3.9],[.42,-4.3],[.62,-4.2],[.42,-5.3],
];
const bothSignificant = [[-1.78,-1.47],[-1.41,-2.06],[-1.42,-2.43],[-1.66,-2.56],[-1.30,-2.65],[-1.17,-2.61],[-1.95,-2.85],[-2.0,-2.97],[-1.86,-3.25],[-1.17,-3.67],[-1.23,-3.85],[-1.54,-4.52],[-1.30,-4.51],[-1.33,-4.57],[-1.10,-4.63],[-1.62,-5.16],[-1.21,-5.77],[-1.10,-6.0],[1.03,-1.26],[1.45,-1.64],[1.6,-1.67],[1.64,-1.57],[1.84,-1.83],[1.68,-1.96],[1.41,-2.21],[3.7,-2.0],[3.72,-2.67],[1.41,-2.7],[2.3,-2.72],[2.85,-3.2],[2.97,-3.21],[1.22,-3.66],[1.26,-3.75],[2.01,-3.74],[2.26,-3.72],[2.51,-3.87],[1.35,-4.15],[1.62,-4.9],[2.8,-5.78]];
const scatterTicksX = [-4,-2,0,2,4];
const scatterTicksY = [6,3,0,-3,-6];
const pbuXLeader = [[-.92,-2.81],[2.05,-2.22]];
const pilGLeader = [[-.4,-3.07],[1.40,-3.19]];
const pilFLeader = [[.3,-4.15],[2.96,-4.75]];

// ---------- helpers ----------
type Seg = { t: string; b?: boolean; i?: boolean; sub?: boolean };
const fontOf = (s: Seg, size: number) =>
  `${s.i ? "italic " : ""}${s.b ? "bold " : ""}${s.sub ? size * 0.62 : size}px ${FONT}`;
function rich(ctx: CanvasRenderingContext2D, segs: Seg[], x: number, y: number, size: number, align = "left", rot = 0) {
  ctx.save();
  ctx.translate(x, y);
  ctx.rotate(rot);
  ctx.textBaseline = "alphabetic";
  ctx.textAlign = "left";
  let w = 0;
  for (const s of segs) { ctx.font = fontOf(s, size); w += ctx.measureText(s.t).width; }
  let cx = align === "center" ? -w / 2 : 0;
  for (const s of segs) {
    ctx.font = fontOf(s, size);
    ctx.fillText(s.t, cx, s.sub ? size * 0.26 : 0);
    cx += ctx.measureText(s.t).width;
  }
  ctx.restore();
}
const polar = (kb: number, r: number) => {
  const th = (kb / GENOME_KB) * Math.PI * 2;
  return { x: r * Math.sin(th), y: r * Math.cos(th) };
};
const GAP = { x: NaN, y: NaN };
const lineSet = (data: any[], color: string, width: number, extra: any = {}) => ({
  data, showLine: true, borderColor: color, borderWidth: width, pointRadius: 0, spanGaps: false, borderCapStyle: "butt", tension: 0, ...extra,
});
// later entries in the list are painted over earlier ones
const stacked = (sets: any[]) => sets.map((d, i) => ({ ...d, order: sets.length - i }));
const baseOpts = { animation: false, responsive: false, events: [] as string[], plugins: { legend: { display: false }, tooltip: { enabled: false } } };

function genomeConfig() {
  const bin = GENOME_KB / geneClass.length;
  const classSet = (c: number) => {
    const out: any[] = [];
    geneClass.forEach((g, i) => { if (g === c) out.push(polar(i * bin, 255), polar((i + 0.92) * bin, 255), GAP); });
    return out;
  };
  const radial = (vals: number[], base: number) => {
    const b = GENOME_KB / vals.length, out: any[] = [];
    vals.forEach((v, i) => { if (v > 0) out.push(polar((i + 0.5) * b, base), polar((i + 0.5) * b, base + v), GAP); });
    return out;
  };
  const spikes: any[] = [];
  spikeKb.forEach((kb, i) => spikes.push(polar(kb, 198), polar(kb, 198 + spikeHeight[i]), GAP));
  const ring: any[] = [], minor: any[] = [], major: any[] = [];
  for (let kb = 0; kb <= GENOME_KB; kb += 5) {
    ring.push(polar(kb, 266.5));
    minor.push(polar(kb, 269), polar(kb, 273), GAP);
  }
  ring.push(polar(0, 266.5));
  for (let kb = 0; kb <= GENOME_KB; kb += 100) major.push(polar(kb, 269), polar(kb, 276), GAP);
  return {
    type: "scatter",
    data: {
      datasets: stacked([
        lineSet(radial(paleTrack, 147), "#e2e2e2", 1.7),
        lineSet(radial(darkEnvelope, 198), "rgba(90,90,90,0.6)", 12.2),
        lineSet(radial(darkTrack, 198), "#5a5a5a", 1.4),
        lineSet(spikes, "#6a6a6a", 0.7),
        lineSet(classSet(1), "#aaa6a4", 8),
        lineSet(classSet(2), "#d69182", 8),
        lineSet(classSet(3), "#f2623e", 8),
        lineSet(minor, "#666", 0.7),
        lineSet(major, "#555", 0.8),
        lineSet(ring, "#000", 5.5),
        {
          data: highlightKb.map((kb) => polar(kb, 255)),
          pointRadius: 10.5, borderWidth: 1.6, showLine: false,
          pointBackgroundColor: highlightFill, pointBorderColor: highlightEdge,
        },
      ]),
    },
    options: {
      ...baseOpts,
      layout: { autoPadding: false, padding: 0 },
      scales: {
        x: { type: "linear", display: false, min: -392, max: 381 },
        y: { type: "linear", display: false, min: -321, max: 319 },
      },
    },
    plugins: [{
      id: "genomeText",
      afterDraw(chart: any) {
        const ctx = chart.ctx, sx = chart.scales.x, sy = chart.scales.y;
        ctx.save();
        ctx.fillStyle = "#555";
        ctx.font = '8.5px "DejaVu Sans"';
        ctx.textBaseline = "middle";
        for (const kb of kbLabels) {
          const p = polar(kb, 278);
          const th = (kb / GENOME_KB) * Math.PI * 2;
          ctx.save();
          ctx.translate(sx.getPixelForValue(p.x), sy.getPixelForValue(p.y));
          if (th < Math.PI) { ctx.rotate(th - Math.PI / 2); ctx.textAlign = "left"; }
          else { ctx.rotate(th + Math.PI / 2); ctx.textAlign = "right"; }
          ctx.fillText(`${kb} kb`, 0, 0);
          ctx.restore();
        }
        ctx.fillStyle = "#000";
        rich(ctx, [{ t: "S. alvi", b: true, i: true }, { t: "  wkB2", b: true }], 393, 250, 32, "center");
        rich(ctx, [{ t: "2,226 genes" }], 393, 309, 25.5, "center");
        rich(ctx, [{ t: "(protein-coding)" }], 393, 331, 16.8, "center");
        rich(ctx, [{ t: "~74,000 Tn insertions" }], 393, 382, 25.5, "center");
        ctx.restore();
      },
    }],
  };
}

function profileConfig(pts: number[][], xMax: number, color: string, faintBefore: number, faintAfter: number) {
  return {
    type: "bar",
    data: {
      datasets: [{
        data: pts.map(([x, y]) => ({ x, y })),
        barThickness: 1.3,
        backgroundColor: (c: any) => {
          const x = c.raw ? c.raw.x : 0;
          return x < faintBefore || x > faintAfter ? "#cfcfcf" : color;
        },
      }],
    },
    options: {
      ...baseOpts,
      layout: { autoPadding: false, padding: 0 },
      scales: {
        x: { type: "linear", display: false, min: 0, max: xMax, offset: false },
        y: { type: "linear", display: false, min: 0, max: 100 },
      },
    },
  };
}

function densityConfig() {
  const toPts = (xs: number[], ys: number[]) => xs.map((x, i) => ({ x, y: ys[i] }));
  return {
    type: "line",
    data: {
      datasets: stacked([
        { data: toPts(nonEssentialX, nonEssentialY), backgroundColor: "#6cbbdf", fill: "origin", borderColor: "#000", borderWidth: 1.5, pointRadius: 0, tension: 0.35 },
        { data: toPts(essentialX, essentialY), backgroundColor: "#ff4c4c", fill: "origin", borderColor: "#000", borderWidth: 1.5, pointRadius: 0, tension: 0.35 },
        { data: [{ x: nonEssentialX[0], y: 0 }, { x: essentialX[essentialX.length - 1], y: 0 }], borderColor: "#000", borderWidth: 1.6, pointRadius: 0, fill: false },
      ]),
    },
    options: {
      ...baseOpts,
      layout: { autoPadding: false, padding: { top: 18, right: 15, left: 0, bottom: 0 } },
      scales: {
        x: {
          type: "linear", reverse: true, min: -9.43, max: 4.5,
          afterFit: (s: any) => { s.height = 74; },
          afterBuildTicks: (s: any) => { s.ticks = densityTicksX.map((value) => ({ value })); },
          ticks: { font: { size: 25, family: FONT }, color: "#000", padding: 1, maxRotation: 0, callback: (v: number) => (v < 0 ? `\u2212${-v}` : `${v}`) },
          grid: { drawOnChartArea: false, tickLength: 8, color: "#000", lineWidth: 1.5 },
          border: { color: "#000", width: 1.8 },
        },
        y: {
          type: "linear", min: -28, max: 708,
          afterFit: (s: any) => { s.width = 113; },
          afterBuildTicks: (s: any) => { s.ticks = densityTicksY.map((value) => ({ value })); },
          ticks: { font: { size: 25, family: FONT }, color: "#000", padding: 3 },
          grid: { drawOnChartArea: false, tickLength: 8, color: "#000", lineWidth: 1.5 },
          border: { color: "#000", width: 1.8 },
        },
      },
    },
    plugins: [{
      id: "densityTitles",
      afterDraw(chart: any) {
        const ctx = chart.ctx, top = 960;
        ctx.save();
        ctx.fillStyle = "#000";
        rich(ctx, [{ t: "Observed vs Expected abundance" }], 418, 1313 - top, 28, "center");
        rich(ctx, [{ t: "Gene count" }], 38, 1133 - top, 31, "center", -Math.PI / 2);
        ctx.restore();
      },
    }],
  };
}

function scatterConfig() {
  const toPts = (a: number[][]) => a.map(([x, y]) => ({ x, y }));
  const dots = (a: number[][], color: string, order: number) => ({ data: toPts(a), pointRadius: 3.3, pointBorderWidth: 0, pointBackgroundColor: color, showLine: false, order });
  const leader = (a: number[][]) => ({ data: toPts(a), showLine: true, borderColor: "#666", borderWidth: 2, pointRadius: 0, order: 0 });
  return {
    type: "scatter",
    data: {
      datasets: [
        dots(tnSignificant, "#d95f02", 4),
        dots(rnaSignificant, "#1b9e77", 3),
        dots(bothSignificant, "#7570b3", 2),
        dots([...notSignificant, ...notSignificantCore], "#000", 1),
        leader(pbuXLeader), leader(pilGLeader), leader(pilFLeader),
      ],
    },
    options: {
      ...baseOpts,
      layout: { autoPadding: false, padding: { top: 32, right: 16, left: 0, bottom: 0 } },
      scales: {
        x: {
          type: "linear", min: -4.36, max: 4.43,
          afterFit: (s: any) => { s.height = 86; },
          afterBuildTicks: (s: any) => { s.ticks = scatterTicksX.map((value) => ({ value })); },
          ticks: { font: { size: 24.5, family: FONT }, color: "#000", padding: 1, maxRotation: 0, callback: (v: number) => (v < 0 ? `\u2212${-v}` : `${v}`) },
          grid: { drawOnChartArea: false, tickLength: 8, color: "#000", lineWidth: 1.5 },
          border: { color: "#000", width: 1.8 },
        },
        y: {
          type: "linear", min: -6.59, max: 6.56,
          afterFit: (s: any) => { s.width = 100; },
          afterBuildTicks: (s: any) => { s.ticks = scatterTicksY.map((value) => ({ value })); },
          ticks: { font: { size: 24.5, family: FONT }, color: "#000", padding: 3, callback: (v: number) => (v < 0 ? `\u2212${-v}` : `${v}`) },
          grid: { drawOnChartArea: false, tickLength: 8, color: "#000", lineWidth: 1.5 },
          border: { color: "#000", width: 1.8 },
        },
      },
    },
    plugins: [{
      id: "scatterNotes",
      afterDatasetsDraw(chart: any) {
        const ctx = chart.ctx, top = 1320;
        ctx.save();
        ctx.fillStyle = "rgba(240,240,240,0.62)";
        ctx.fillRect(117, 1347 - top, 519, 83);
        const dot = (x: number, y: number, c: string) => { ctx.fillStyle = c; ctx.beginPath(); ctx.arc(x, y - top, 6.3, 0, Math.PI * 2); ctx.fill(); };
        dot(140.7, 1372.3, "#000"); dot(140.7, 1403.7, "#1b9e77"); dot(412.7, 1372.3, "#d95f02"); dot(412.7, 1403.7, "#7570b3");
        ctx.fillStyle = "#000";
        rich(ctx, [{ t: "not significant" }], 161.7, 1381 - top, 23.4);
        const sig = (head: string): Seg[] => [{ t: head + " p", b: true }, { t: "adj", b: true, sub: true }, { t: " \u2264 0.05", b: true }];
        rich(ctx, sig("RNA-seq"), 161.7, 1412 - top, 23);
        rich(ctx, sig("Tn-seq"), 433.3, 1381 - top, 23);
        rich(ctx, [{ t: "both p", b: true }, { t: "adj", b: true, sub: true }, { t: " \u2264 0.05", b: true }], 433.3, 1412 - top, 23);
        rich(ctx, [{ t: "pbuX", i: true }], 583, 1698 - top, 23.6);
        rich(ctx, [{ t: "pilG", i: true }], 535, 1738 - top, 23.6);
        rich(ctx, [{ t: "pilF", i: true }], 651.7, 1798 - top, 23.6);
        const title = (a: string, b: string): Seg[] => [{ t: a }, { t: "2", sub: true }, { t: b }];
        rich(ctx, title("RNA-seq log", "-fold change"), 423, 1932 - top, 29.8, "center");
        rich(ctx, title("Tn-seq log", "-fold abundance"), 42, 1616 - top, 29.8, "center", -Math.PI / 2);
        ctx.restore();
      },
    }],
  };
}

function arrowShape(tail: number, base: number, tip: number, mid: number, shaft: number, head: number) {
  return [
    { x: tail, y: mid - shaft }, { x: base, y: mid - shaft }, { x: base, y: mid - head }, { x: tip, y: mid },
    { x: base, y: mid + head }, { x: base, y: mid + shaft }, { x: tail, y: mid + shaft }, { x: tail, y: mid - shaft },
  ];
}

function overlayConfig() {
  const arrow = (pts: any[], fillColor: string) => ({ data: pts, showLine: true, fill: "shape", backgroundColor: fillColor, borderColor: "#000", borderWidth: 1, pointRadius: 0, tension: 0 });
  const conn = (a: number[], b: number[]) => lineSet([{ x: a[0], y: a[1] }, { x: b[0], y: b[1] }], "#333", 1.1);
  return {
    type: "scatter",
    data: {
      datasets: stacked([
        conn([140, 414], [88, 664]), conn([163.5, 412], [236.5, 644]),
        conn([584, 480], [331, 646]), conn([589, 488], [484, 665]),
        conn([594, 178], [626.6, 664]), conn([613, 180], [688.7, 644]),
        arrow(arrowShape(236.5, 117, 88, 664, 20, 30.5), "#70ad47"),
        arrow(arrowShape(331, 373, 396.5, 665.5, 19.5, 30), "#ffff66"),
        arrow(arrowShape(398.5, 419.7, 438, 665.5, 19.5, 30), "#ffff66"),
        arrow(arrowShape(441.4, 462, 484, 665.5, 19.5, 30), "#ffff66"),
        arrow(arrowShape(688.7, 651, 626.6, 665, 20.5, 30), "#ff4c4c"),
      ]),
    },
    options: {
      ...baseOpts,
      layout: { autoPadding: false, padding: 0 },
      scales: {
        x: { type: "linear", display: false, min: 0, max: 773 },
        y: { type: "linear", display: false, min: 0, max: 1952, reverse: true },
      },
    },
    plugins: [{
      id: "pageNotes",
      afterDraw(chart: any) {
        const ctx = chart.ctx;
        ctx.save();
        ctx.fillStyle = "#000";
        rich(ctx, [{ t: "A" }], 10, 44, 39);
        rich(ctx, [{ t: "B" }], 10, 996, 39);
        rich(ctx, [{ t: "C" }], 10, 1359, 39);
        rich(ctx, [{ t: "1,308 genes", b: true }], 155, 890, 25, "center");
        rich(ctx, [{ t: "no fitness benefit" }], 155, 915, 21.8, "center");
        rich(ctx, [{ t: "399 genes", b: true }], 415, 890, 25, "center");
        rich(ctx, [{ t: "beneficial in gut" }], 415, 915, 21.8, "center");
        rich(ctx, [{ t: "519 genes", b: true }], 662, 890, 25, "center");
        rich(ctx, [{ t: "essential" }], 662, 915, 21.8, "center");
        rich(ctx, [{ t: "1,707 genes", b: true }], 291, 996, 25, "center");
        rich(ctx, [{ t: "non-essential" }], 291, 1022, 21.3, "center");
        rich(ctx, [{ t: "Tn insertions" }], 23, 788, 17.5, "center", -Math.PI / 2);
        const rotTick = (t: string, x: number, y: number) => rich(ctx, [{ t }], x, y, 8, "center", -Math.PI / 2);
        rotTick("100", 42, 710); rotTick("0", 42, 778); rotTick("100", 42, 792); rotTick("0", 42, 857);
        ctx.strokeStyle = "#000";
        ctx.lineWidth = 2;
        const curve = (pts: number[]) => { ctx.beginPath(); ctx.moveTo(pts[0], pts[1]); ctx.bezierCurveTo(pts[2], pts[3], pts[4], pts[5], pts[6], pts[7]); ctx.stroke(); };
        const chevron = (a: number[], t: number[], b: number[]) => { ctx.beginPath(); ctx.moveTo(a[0], a[1]); ctx.lineTo(t[0], t[1]); ctx.lineTo(b[0], b[1]); ctx.stroke(); };
        curve([153, 928, 153, 960, 175, 980, 207, 985]);
        chevron([194.6, 977], [207, 985], [195.6, 992]);
        curve([430, 928, 430, 960, 405, 980, 377, 985]);
        chevron([388, 977], [377, 985], [388, 992]);
        curve([712.7, 926, 745, 975, 750, 1050, 672.4, 1146.7]);
        chevron([672, 1135], [672.4, 1146.7], [684, 1146.7]);
        ctx.restore();
      },
    }],
  };
}

const profiles = [
  { left: 30, width: 240, top: 703, height: 78, pts: profile1Top, color: "#111", fb: -1, fa: 630 },
  { left: 30, width: 240, top: 783, height: 77, pts: profile1Bottom, color: "#9a9a9a", fb: -1, fa: 630 },
  { left: 290, width: 230, top: 703, height: 78, pts: profile2Top, color: "#111", fb: 25, fa: 662 },
  { left: 290, width: 230, top: 783, height: 77, pts: profile2Bottom, color: "#9a9a9a", fb: 25, fa: 662 },
  { left: 550, width: 223, top: 703, height: 78, pts: profile3Top, color: "#111", fb: 25, fa: 630 },
  { left: 550, width: 223, top: 783, height: 77, pts: profile3Bottom, color: "#9a9a9a", fb: 25, fa: 630 },
];

const abs = (left: number, top: number, z = 1): React.CSSProperties => ({ position: "absolute", left, top, zIndex: z, display: "block" });

export default function App() {
  const genome = useRef<HTMLCanvasElement>(null);
  const density = useRef<HTMLCanvasElement>(null);
  const scatter = useRef<HTMLCanvasElement>(null);
  const overlay = useRef<HTMLCanvasElement>(null);
  const tracks = useRef<(HTMLCanvasElement | null)[]>([]);
  useEffect(() => {
    const charts: Chart[] = [];
    const add = (el: HTMLCanvasElement | null, cfg: any) => { if (el) charts.push(new Chart(el, cfg)); };
    add(genome.current, genomeConfig());
    profiles.forEach((p, i) => add(tracks.current[i], profileConfig(p.pts, p.width * 3, p.color, p.fb, p.fa)));
    add(density.current, densityConfig());
    add(scatter.current, scatterConfig());
    add(overlay.current, overlayConfig());
    return () => charts.forEach((c) => c.destroy());
  }, []);
  return (
    <div style={{ position: "absolute", left: 0, top: 0, width: 773, height: 1952, background: "#fff", overflow: "hidden" }}>
      <canvas ref={genome} width={773} height={640} style={abs(0, 0)} />
      {profiles.map((p, i) => (
        <canvas key={i} ref={(el) => { tracks.current[i] = el; }} width={p.width} height={p.height} style={abs(p.left, p.top)} />
      ))}
      <canvas ref={density} width={773} height={360} style={abs(0, 960)} />
      <canvas ref={scatter} width={773} height={632} style={abs(0, 1320)} />
      <canvas ref={overlay} width={773} height={1952} style={abs(0, 0, 5)} />
    </div>
  );
}
